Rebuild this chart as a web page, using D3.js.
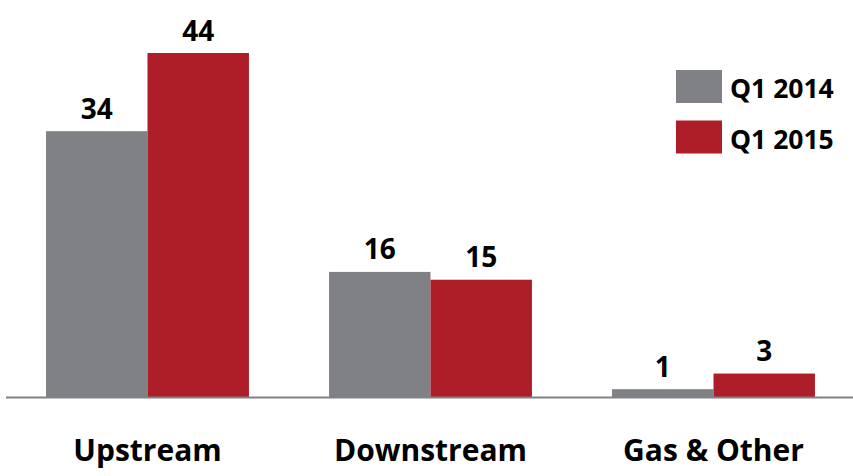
<!DOCTYPE html>
<html>
<head>
<meta charset="utf-8">
<script src="https://cdn.jsdelivr.net/npm/d3@7"></script>
<style>
  html, body { margin: 0; padding: 0; background: #fff; }
  svg text { font-family: "Open Sans", "DejaVu Sans", sans-serif; font-weight: 700; fill: #000; }
</style>
</head>
<body>
<svg id="chart" width="853" height="476"></svg>
<script>
// Segments and the two quarters compared
const categories = ["Upstream", "Downstream", "Gas & Other"];
const seriesNames = ["Q1 2014", "Q1 2015"];
const q1_2014 = [34, 16, 1];
const q1_2015 = [44, 15, 3];
const colors = ["#808184", "#ae1e28"];

const svg = d3.select("#chart");
const W = 853, H = 476;
const baseline = 397;

const x0 = d3.scaleBand()
  .domain(categories)
  .range([6, 855])
  .paddingInner(0.283)
  .paddingOuter(0.1415);

const x1 = d3.scaleBand()
  .domain(seriesNames)
  .range([0, x0.bandwidth()])
  .padding(0);

const y = d3.scaleLinear()
  .domain([0, 44])
  .range([baseline, 53]);

const rows = categories.map((c, i) => ({
  cat: c,
  values: [
    { s: seriesNames[0], v: q1_2014[i], color: colors[0] },
    { s: seriesNames[1], v: q1_2015[i], color: colors[1] }
  ]
}));

const groups = svg.selectAll("g.group")
  .data(rows)
  .join("g")
  .attr("class", "group")
  .attr("transform", d => `translate(${x0(d.cat)},0)`);

groups.selectAll("rect")
  .data(d => d.values)
  .join("rect")
  .attr("x", d => x1(d.s))
  .attr("width", x1.bandwidth())
  .attr("y", d => y(d.v))
  .attr("height", d => y(0) - y(d.v))
  .attr("fill", d => d.color);

groups.selectAll("text.val")
  .data(d => d.values)
  .join("text")
  .attr("class", "val")
  .attr("x", d => x1(d.s) + x1.bandwidth() / 2)
  .attr("y", d => y(d.v) - 12.5)
  .attr("text-anchor", "middle")
  .style("font-size", "28px")
  .text(d => d.v);

// Baseline axis
svg.append("line")
  .attr("x1", 6).attr("x2", W)
  .attr("y1", baseline + 0.5).attr("y2", baseline + 0.5)
  .attr("stroke", "#808184")
  .attr("stroke-width", 2);

// Category labels
const xAxis = d3.axisBottom(x0).tickSize(0).tickPadding(0);
const axisG = svg.append("g")
  .attr("transform", `translate(0,${baseline})`)
  .call(xAxis);
axisG.select(".domain").remove();
axisG.selectAll("text")
  .attr("dy", null)
  .attr("y", 64)
  .style("font-size", "30px")
  .style("font-family", "'Open Sans', sans-serif")
  .style("font-weight", 700)
  .attr("fill", "#000");

// Legend
const legend = svg.append("g").attr("transform", "translate(676,70)");
const li = legend.selectAll("g")
  .data(seriesNames)
  .join("g")
  .attr("transform", (d, i) => `translate(0,${i * 50.5})`);
li.append("rect")
  .attr("width", 46).attr("height", 33)
  .attr("fill", (d, i) => colors[i]);
li.append("text")
  .attr("x", 54).attr("y", 28)
  .style("font-size", "26.5px")
  .text(d => d);
</script>
</body>
</html>
